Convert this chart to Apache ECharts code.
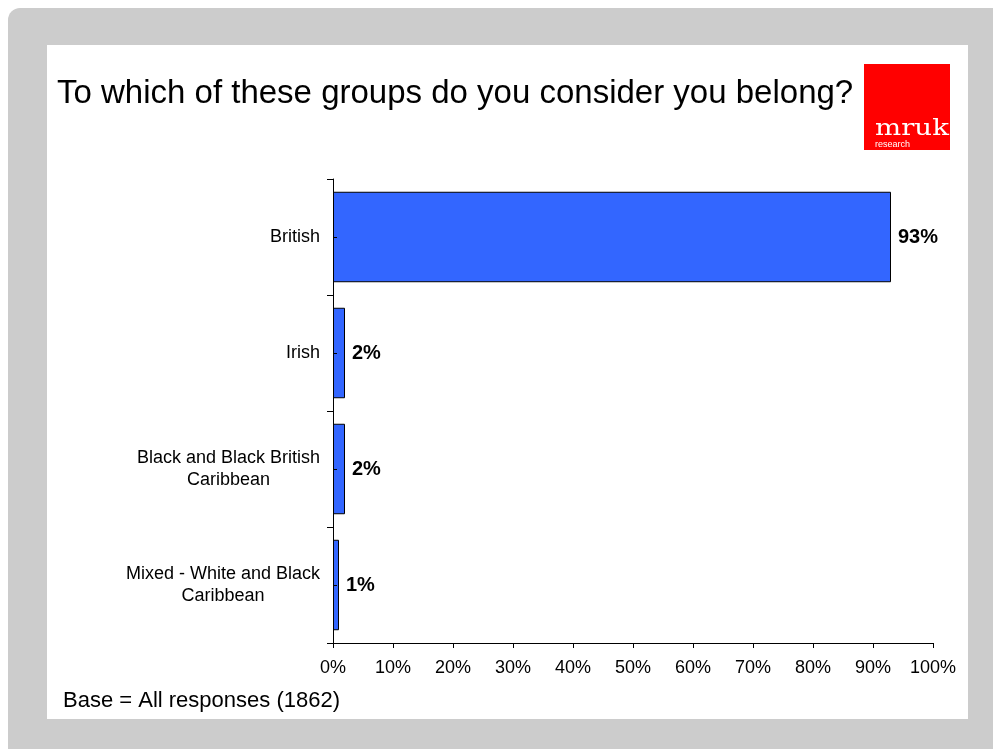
<!DOCTYPE html>
<html>
<head>
<meta charset="utf-8">
<script src="https://cdn.jsdelivr.net/npm/echarts@6/dist/echarts.min.js"></script>
<style>
  html, body { margin: 0; padding: 0; background: #ffffff; }
  #chart { width: 993px; height: 749px; }
</style>
</head>
<body>
<div id="chart"></div>
<script>
// Survey answers, top to bottom
const categories = [
  'British',
  'Irish',
  'Black and Black British\nCaribbean',
  'Mixed - White and Black\nCaribbean'
];
const shares = [93, 2, 2, 1];

const titleText = 'To which of these groups do you consider you belong?';
const baseNote = 'Base = All responses (1862)';

const FONT = '"Liberation Sans", Arial, Helvetica, sans-serif';

const chart = echarts.init(document.getElementById('chart'), null, { renderer: 'canvas' });

// Multi-line category names: lines centred on each other, block right-aligned to the axis
function centredLines(value) {
  return value.split('\n').map(function (line) { return '{c|' + line + '}'; }).join('\n');
}

chart.setOption({
  animation: false,
  backgroundColor: '#ffffff',
  graphic: [
    // grey frame with rounded top-left corner
    { type: 'rect', z: -100, shape: { x: 8, y: 8, width: 1000, height: 760, r: 12 },
      style: { fill: '#cccccc' } },
    // white slide panel
    { type: 'rect', z: -99, shape: { x: 47, y: 45, width: 921, height: 674 },
      style: { fill: '#ffffff' } },
    // title
    { type: 'text', z: 10, x: 57, y: 94,
      style: { text: titleText, font: '33px ' + FONT, fill: '#000000', verticalAlign: 'middle', align: 'left' } },
    // logo
    { type: 'rect', z: 10, shape: { x: 864, y: 64, width: 86, height: 86 },
      style: { fill: '#ff0000' } },
    { type: 'text', z: 11, x: 875, y: 129, scaleX: 1.2,
      style: { text: 'mruk', font: '23px "DejaVu Serif", "Liberation Serif", serif', fill: '#ffffff',
               verticalAlign: 'middle', align: 'left' } },
    { type: 'text', z: 11, x: 875, y: 145,
      style: { text: 'research', font: '9px ' + FONT, fill: '#ffffff', verticalAlign: 'middle', align: 'left' } },
    // base note
    { type: 'text', z: 10, x: 63, y: 701,
      style: { text: baseNote, font: '22px ' + FONT, fill: '#000000', verticalAlign: 'middle', align: 'left' } }
  ],
  grid: { left: 333, right: 60, top: 179, bottom: 106, containLabel: false },
  xAxis: {
    type: 'value',
    min: 0,
    max: 100,
    interval: 10,
    axisLine: { show: true, lineStyle: { color: '#000000', width: 1 } },
    axisTick: { show: true, length: 5, lineStyle: { color: '#000000', width: 1 } },
    splitLine: { show: false },
    axisLabel: {
      formatter: '{value}%',
      color: '#000000',
      fontFamily: FONT,
      fontSize: 18,
      margin: 16
    }
  },
  yAxis: [
    {
      type: 'category',
      data: categories,
      inverse: true,
      position: 'left',
      z: 5,
      axisLine: { show: true, lineStyle: { color: '#000000', width: 1 } },
      axisTick: { show: true, length: 6, lineStyle: { color: '#000000', width: 1 } },
      splitLine: { show: false },
      axisLabel: {
        margin: 13,
        color: '#000000',
        fontFamily: FONT,
        fontSize: 18,
        lineHeight: 22,
        formatter: centredLines,
        rich: { c: { align: 'center', fontFamily: FONT, fontSize: 18, lineHeight: 22, color: '#000000' } }
      }
    },
    {
      // short inward marks at the middle of each category
      type: 'category',
      data: categories,
      inverse: true,
      position: 'left',
      z: 20,
      axisLine: { show: false },
      axisTick: { show: true, inside: true, alignWithLabel: true, length: 4,
                  lineStyle: { color: '#000000', width: 1 } },
      axisLabel: { show: false },
      splitLine: { show: false }
    }
  ],
  series: [{
    type: 'bar',
    data: shares,
    yAxisIndex: 0,
    barCategoryGap: '22%',
    itemStyle: { color: '#3366ff', borderColor: '#000000', borderWidth: 1 },
    label: {
      show: true,
      position: 'right',
      distance: 7,
      formatter: '{c}%',
      color: '#000000',
      fontFamily: FONT,
      fontWeight: 'bold',
      fontSize: 20
    }
  }]
});
</script>
</body>
</html>
